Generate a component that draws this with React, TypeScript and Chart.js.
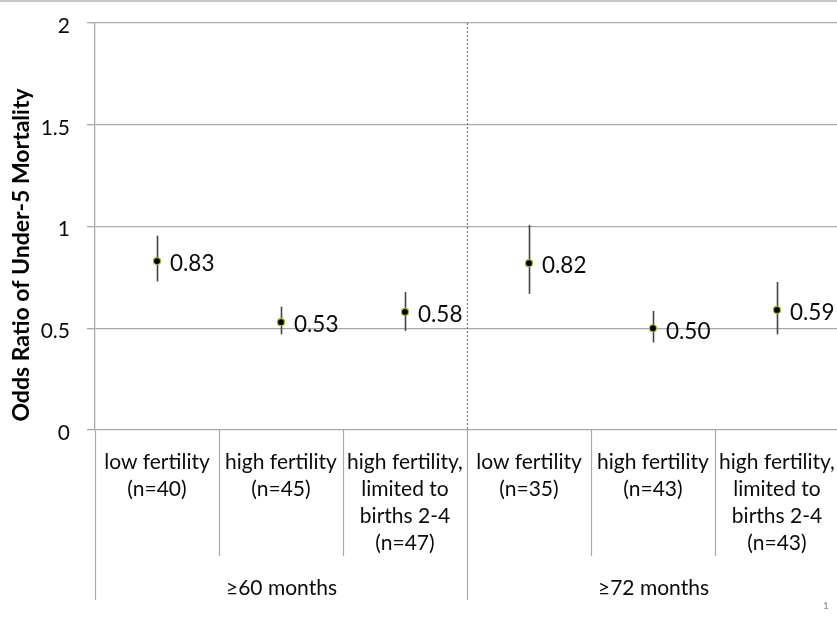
import React, { useEffect, useRef } from "react";
import { Chart, registerables } from "chart.js";

Chart.register(...registerables);

// Sub-group labels under each point (one entry per line)
const categoryLabels: string[][] = [
  ["low fertility", "(n=40)"],
  ["high fertility", "(n=45)"],
  ["high fertility,", "limited to", "births 2-4", "(n=47)"],
  ["low fertility", "(n=35)"],
  ["high fertility", "(n=43)"],
  ["high fertility,", "limited to", "births 2-4", "(n=43)"],
];
const groupLabels = ["≥60 months", "≥72 months"];
const groupSizes = [3, 3];

// Odds ratios with 95% confidence bounds
const oddsRatios = [0.83, 0.53, 0.58, 0.82, 0.5, 0.59];
const ciLower = [0.73, 0.47, 0.487, 0.669, 0.43, 0.47];
const ciUpper = [0.955, 0.606, 0.678, 1.008, 0.585, 0.728];

const yTickValues = [0, 0.5, 1, 1.5, 2];
const yTitle = "Odds Ratio of Under-5 Mortality";
const pageNumber = "1";

const FONT = "Lato, 'Open Sans', sans-serif";
const GRID = "#a8a8a8";
const TEXT = "#0a0a0a";

const tablePlugin = {
  id: "oddsTable",
  beforeDatasetsDraw(chart: any) {
    const { ctx, scales } = chart;
    const x = scales.x;
    const y = scales.y;
    ctx.save();
    ctx.strokeStyle = "#454545";
    ctx.lineWidth = 1.6;
    oddsRatios.forEach((_, i) => {
      const px = Math.round(x.getPixelForValue(i)) + 0.5;
      ctx.beginPath();
      ctx.moveTo(px, y.getPixelForValue(ciUpper[i]));
      ctx.lineTo(px, y.getPixelForValue(ciLower[i]));
      ctx.stroke();
    });
    ctx.restore();
  },
  afterDraw(chart: any) {
    const { ctx, chartArea, scales, width } = chart;
    const x = scales.x;
    const y = scales.y;
    ctx.save();

    // slide frame line along the top
    ctx.strokeStyle = "#b0b0b0";
    ctx.lineWidth = 1.5;
    ctx.beginPath();
    ctx.moveTo(0, 1);
    ctx.lineTo(width, 1);
    ctx.stroke();

    // value labels beside each point
    ctx.fillStyle = TEXT;
    ctx.font = `22.5px ${FONT}`;
    ctx.textAlign = "left";
    ctx.textBaseline = "middle";
    oddsRatios.forEach((v, i) => {
      ctx.fillText(v.toFixed(2), x.getPixelForValue(i) + 13, y.getPixelForValue(v) + 3);
    });

    const step = x.getPixelForValue(1) - x.getPixelForValue(0);
    const boundary = (i: number) => Math.round(x.getPixelForValue(i) - step / 2) + 0.5;
    const bottom = chartArea.bottom;
    const cellBottom = bottom + 126;
    const groupBottom = bottom + 170;

    // group edges
    const groupStarts: number[] = [];
    let acc = 0;
    groupSizes.forEach((n) => {
      groupStarts.push(acc);
      acc += n;
    });
    groupStarts.push(acc);

    ctx.lineWidth = 1.2;
    ctx.strokeStyle = GRID;
    // inner category separators
    for (let i = 1; i < categoryLabels.length; i++) {
      if (groupStarts.includes(i)) continue;
      const bx = boundary(i);
      ctx.beginPath();
      ctx.moveTo(bx, bottom);
      ctx.lineTo(bx, cellBottom);
      ctx.stroke();
    }
    // group separators below the plot
    groupStarts.forEach((g) => {
      const bx = boundary(g);
      ctx.beginPath();
      ctx.moveTo(bx, bottom);
      ctx.lineTo(bx, groupBottom);
      ctx.stroke();
    });
    // dotted divider between groups inside the plot
    ctx.setLineDash([2, 2]);
    ctx.strokeStyle = "#7a7a7a";
    groupStarts.slice(1, -1).forEach((g) => {
      const bx = boundary(g);
      ctx.beginPath();
      ctx.moveTo(bx, chartArea.top);
      ctx.lineTo(bx, bottom);
      ctx.stroke();
    });
    ctx.setLineDash([]);

    // category labels
    ctx.fillStyle = TEXT;
    ctx.font = `21px ${FONT}`;
    ctx.textAlign = "center";
    ctx.textBaseline = "middle";
    categoryLabels.forEach((lines, i) => {
      const cx = x.getPixelForValue(i);
      lines.forEach((line, j) => {
        ctx.fillText(line, cx, bottom + 32 + j * 27);
      });
    });

    // group labels
    groupLabels.forEach((label, gi) => {
      const cx = (boundary(groupStarts[gi]) + boundary(groupStarts[gi + 1])) / 2;
      ctx.fillText(label, cx, bottom + 158);
    });

    // axis title
    ctx.save();
    ctx.translate(22, 255);
    ctx.rotate(-Math.PI / 2);
    ctx.font = `bold 23px ${FONT}`;
    ctx.fillStyle = "#000";
    ctx.fillText(yTitle, 0, 0);
    ctx.restore();

    // page number
    ctx.font = `10px ${FONT}`;
    ctx.fillStyle = "#8a8a8a";
    ctx.fillText(pageNumber, 826, 606);

    ctx.restore();
  },
};

export default function App() {
  const canvasRef = useRef<HTMLCanvasElement | null>(null);

  useEffect(() => {
    if (!canvasRef.current) return;
    const chart = new Chart(canvasRef.current, {
      type: "line",
      data: {
        labels: categoryLabels.map((l) => l.join(" ")),
        datasets: [
          {
            data: oddsRatios,
            showLine: false,
            pointRadius: 3.5,
            pointHoverRadius: 3.5,
            pointBackgroundColor: "#000",
            pointBorderColor: "#9bb53c",
            pointBorderWidth: 1.2,
          },
        ],
      },
      options: {
        responsive: false,
        animation: false,
        layout: { padding: { top: 23, bottom: 189, right: 6, left: 0 } },
        plugins: {
          legend: { display: false },
          tooltip: { enabled: false },
        },
        scales: {
          x: {
            type: "category",
            offset: true,
            display: false,
          },
          y: {
            min: 0,
            max: 2,
            afterBuildTicks: (scale: any) => {
              scale.ticks = yTickValues.map((v) => ({ value: v }));
            },
            afterFit: (scale: any) => {
              scale.width = 95;
              scale.paddingTop = 0;
              scale.paddingBottom = 0;
            },
            ticks: {
              padding: 17,
              labelOffset: 3,
              color: TEXT,
              font: { family: FONT, size: 21 },
              callback: (v: any) => String(v),
            },
            grid: {
              color: GRID,
              lineWidth: 1.3,
              drawTicks: true,
              tickLength: 8,
            },
            border: { display: true, color: GRID, width: 1.3 },
          },
        },
      },
      plugins: [tablePlugin],
    });
    return () => chart.destroy();
  }, []);

  return (
    <div
      style={{
        position: "fixed",
        left: 0,
        top: 0,
        width: 837,
        height: 619,
        overflow: "hidden",
        background: "#fff",
      }}
    >
      <canvas ref={canvasRef} width={845} height={619} style={{ display: "block" }} />
    </div>
  );
}
